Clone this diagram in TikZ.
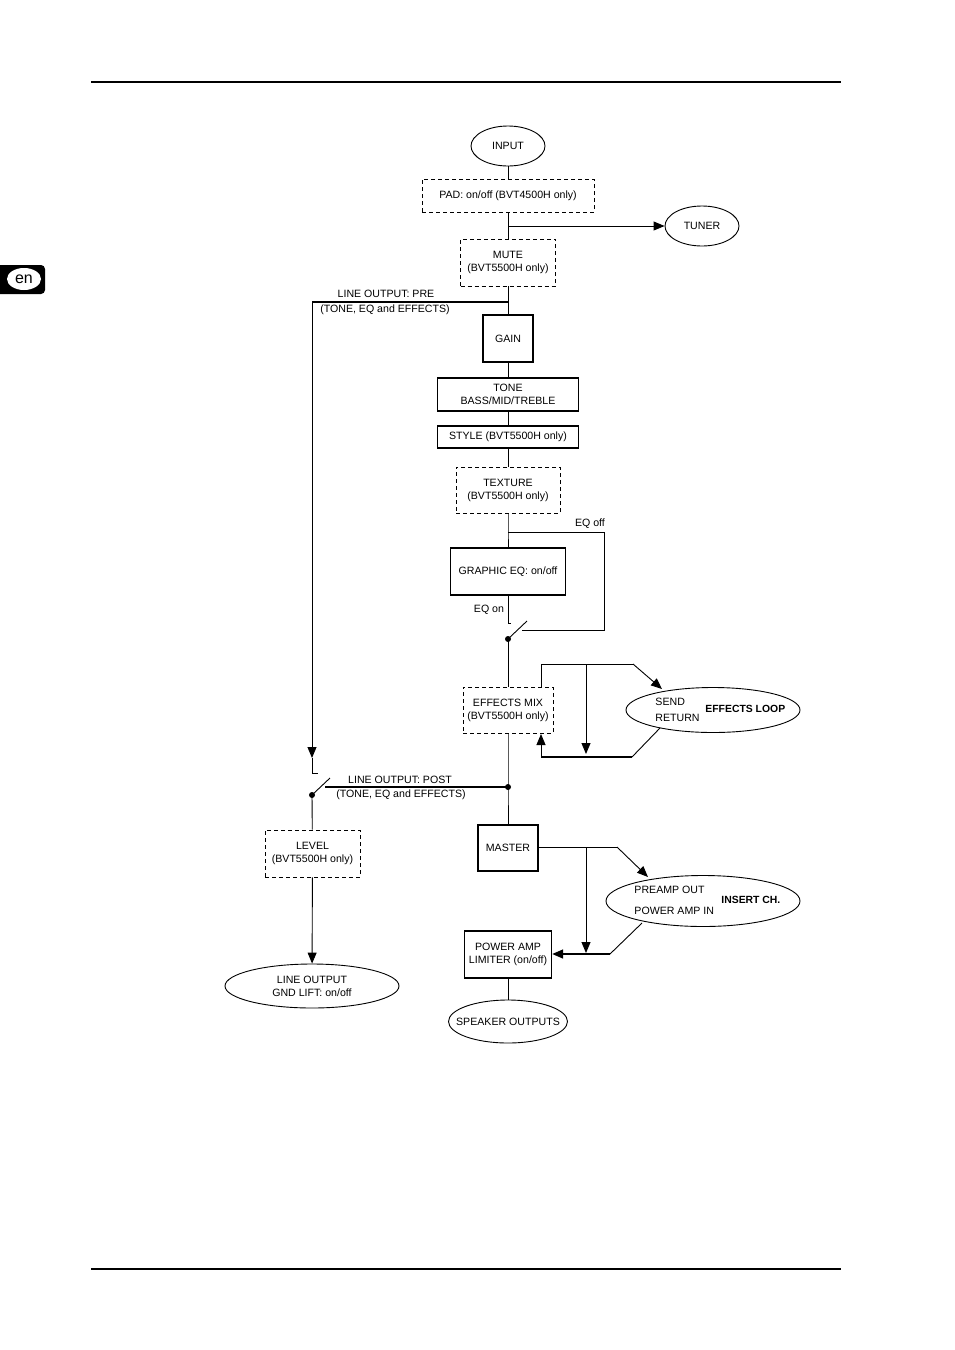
\documentclass[tikz,border=0pt]{standalone}
\usepackage{fontspec}
\setmainfont{Liberation Sans}
\usetikzlibrary{arrows.meta, positioning, shapes.geometric}

\begin{document}
\begin{tikzpicture}[x=1pt, y=-1pt, >={Triangle[length=11pt, width=9pt]},
    font=\fontsize{10.6}{13}\selectfont, line width=0.9pt,
    box/.style={draw, rectangle, line width=1.4pt, inner sep=0pt, align=center},
    dbox/.style={draw, rectangle, dashed, dash pattern=on 4pt off 3pt, inner sep=0pt, align=center},
    oval/.style={draw, ellipse, inner sep=0pt, align=center},
    bus/.style={line width=1.6pt},
    lbl/.style={inner sep=0pt, anchor=west},
    jdot/.style={fill, circle, inner sep=0pt, minimum size=6pt}]

\useasboundingbox (0,0) rectangle (954,1350);

% ── PAGE FRAME ───────────────────────────────────────────────────
\draw[line width=1.1pt] (91,82) -- (841,82);
\draw[line width=1.1pt] (91,1269) -- (841,1269);
\fill[rounded corners=4pt] (-8,265) rectangle (45,294);
\node[fill=white, ellipse, minimum width=34pt, minimum height=22pt, inner sep=-2pt,
    font=\fontsize{16}{16}\selectfont] (lang) at (24,279) {en};

% ── SIGNAL CHAIN ─────────────────────────────────────────────────
\node[oval, minimum width=74pt, minimum height=40pt] (input) at (508,146) {INPUT};
\node[dbox, minimum width=172pt, minimum height=33pt] (pad) at (508,195.5) {PAD: on/off (BVT4500H only)};
\node[oval, minimum width=74pt, minimum height=40pt] (tuner) at (702,226) {TUNER};
\node[dbox, minimum width=95pt, minimum height=47pt] (mute) at (508,262.5) {MUTE\\(BVT5500H only)};
\node[box, minimum width=50pt, minimum height=47pt] (gain) at (508,338.5) {GAIN};
\node[box, minimum width=141pt, minimum height=33pt] (tone) at (508,394.5) {TONE\\BASS/MID/TREBLE};
\node[box, minimum width=141pt, minimum height=22pt] (style) at (508,437) {STYLE (BVT5500H only)};
\node[dbox, minimum width=104pt, minimum height=46pt] (texture) at (508,490) {TEXTURE\\(BVT5500H only)};
\node[box, minimum width=115pt, minimum height=47pt] (geq) at (508,571.5) {GRAPHIC EQ: on/off};
\node[dbox, minimum width=90pt, minimum height=46pt] (effmix) at (508,710) {EFFECTS MIX\\(BVT5500H only)};
\node[box, minimum width=60pt, minimum height=46pt] (master) at (508,848) {MASTER};
\node[box, minimum width=87pt, minimum height=47pt] (pwramp) at (508,954.5) {POWER AMP\\LIMITER (on/off)};
\node[oval, minimum width=119pt, minimum height=43pt, inner xsep=-10pt] (speaker) at (508,1021.5) {SPEAKER OUTPUTS};

% side blocks
\node[oval, minimum width=174pt, minimum height=45pt] (fxloop) at (713,710) {};
\node[lbl] (send) at (655,702) {SEND};
\node[lbl] (return) at (655,718) {RETURN};
\node[lbl, font=\fontsize{10.4}{12}\selectfont\bfseries] (fxname) at (705,709) {EFFECTS LOOP};
\node[oval, minimum width=194pt, minimum height=51pt] (insert) at (703,901) {};
\node[lbl] (preout) at (634,890) {PREAMP OUT};
\node[lbl] (pwrin) at (634,911) {POWER AMP IN};
\node[lbl, font=\fontsize{10.4}{12}\selectfont\bfseries] (insname) at (721,900) {INSERT CH.};
\node[dbox, minimum width=95pt, minimum height=47pt] (level) at (312.5,853.5) {LEVEL\\(BVT5500H only)};
\node[oval, minimum width=174pt, minimum height=44pt] (lineout) at (312,986) {LINE OUTPUT\\GND LIFT: on/off};

% ── CONNECTORS ───────────────────────────────────────────────────
\coordinate (tunerjn) at (508,226);
\coordinate (prejn) at (508,302);
\draw (input) -- (pad);
\draw (pad) -- (mute);
\draw[->] (tunerjn) -- (tuner);
\draw (mute) -- (gain);
\draw (gain) -- (tone);
\draw (tone) -- (style);
\draw (style) -- (texture);

% line output pre
\coordinate (precorner) at (312,302);
\coordinate (prearrow) at (312,758);
\coordinate (prestub) at (312,773);
\coordinate (prestubend) at (318,773);
\draw[bus] (prejn) -- (precorner);
\draw[->] (precorner) -- (prearrow);
\draw (prearrow) -- (prestub) -- (prestubend);
\node[inner sep=0pt] (pretop) at (386,294) {LINE OUTPUT: PRE};
\node[inner sep=0pt] (prebot) at (385,310) {(TONE, EQ and EFFECTS)};

% graphic eq bypass
\coordinate (eqjn) at (508,532);
\coordinate (eqoff) at (604,532);
\coordinate (eqret) at (604,630);
\coordinate (eqretend) at (522,630);
\coordinate (eqstub) at (508,623);
\coordinate (eqstubend) at (511,623);
\coordinate (eqblade) at (527,621);
\node[jdot] (eqsw) at (508,639) {};
\draw (texture) -- (eqjn) -- (geq);
\draw (eqjn) -- (eqoff) -- (eqret) -- (eqretend);
\draw (geq) -- (eqstub) -- (eqstubend);
\draw (eqsw.center) -- (eqblade);
\draw (eqsw.center) -- (effmix);
\node[inner sep=0pt] (eqofflbl) at (590,524) {EQ off};
\node[inner sep=0pt] (eqonlbl) at (489,610) {EQ on};

% effects loop
\coordinate (fxout) at (541,687);
\coordinate (fxup) at (541,664);
\coordinate (fxbend) at (633,664);
\coordinate (fxsend) at (662,689);
\coordinate (fxtap) at (586,664);
\coordinate (fxtapend) at (586,754);
\coordinate (fxreturn) at (660,728);
\coordinate (fxlow) at (632,757);
\coordinate (fxleft) at (541,757);
\coordinate (fxin) at (541,734);
\draw (fxout) -- (fxup) -- (fxbend);
\draw[->] (fxbend) -- (fxsend);
\draw[->] (fxtap) -- (fxtapend);
\draw (fxreturn) -- (fxlow);
\draw[bus] (fxlow) -- (fxleft);
\draw[->] (fxleft) -- (fxin);

% line output post
\node[jdot] (postjn) at (508,787) {};
\node[jdot] (postsw) at (312,795) {};
\coordinate (postblade) at (330,778);
\coordinate (poststart) at (325,787);
\draw (effmix) -- (postjn.center) -- (master);
\draw[bus] (poststart) -- (postjn.center);
\draw (postsw.center) -- (postblade);
\draw (postsw.center) -- (level);
\draw[->] (level) -- (lineout);
\node[inner sep=0pt] (posttop) at (400,780) {LINE OUTPUT: POST};
\node[inner sep=0pt] (postbot) at (401,795) {(TONE, EQ and EFFECTS)};

% insert channel
\coordinate (insout) at (617,847);
\coordinate (inssend) at (648,877);
\coordinate (instap) at (586,847);
\coordinate (instapend) at (586,953);
\coordinate (insreturn) at (642,923);
\coordinate (inslow) at (610,954);
\draw (master.east |- insout) -- (insout);
\draw[->] (insout) -- (inssend);
\draw[->] (instap) -- (instapend);
\draw (insreturn) -- (inslow);
\draw[->, bus] (inslow) -- (pwramp.east |- inslow);
\draw (pwramp) -- (speaker);

\end{tikzpicture}
\end{document}
